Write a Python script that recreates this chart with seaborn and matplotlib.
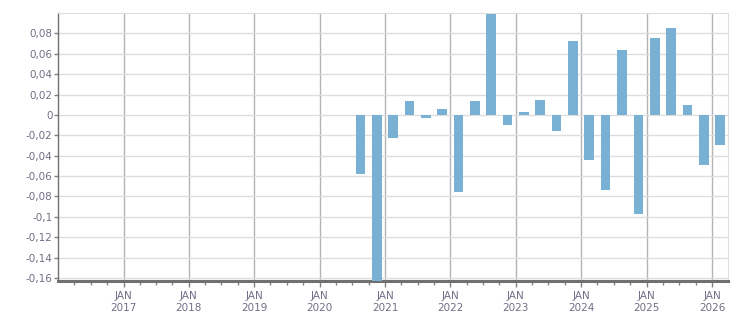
import pandas as pd
import numpy as np
import matplotlib
matplotlib.use("Agg")
import matplotlib.pyplot as plt
import matplotlib.dates as mdates
from matplotlib.ticker import FuncFormatter, FixedLocator
import seaborn as sns

# quarterly values
quarters = ["2020Q3", "2020Q4", "2021Q1", "2021Q2", "2021Q3", "2021Q4",
            "2022Q1", "2022Q2", "2022Q3", "2022Q4", "2023Q1", "2023Q2",
            "2023Q3", "2023Q4", "2024Q1", "2024Q2", "2024Q3", "2024Q4",
            "2025Q1", "2025Q2", "2025Q3", "2025Q4", "2026Q1"]
values = [-0.058, -0.17, -0.023, 0.014, -0.003, 0.006,
          -0.076, 0.014, 0.099, -0.010, 0.003, 0.015,
          -0.016, 0.073, -0.044, -0.074, 0.064, -0.097,
          0.075, 0.085, 0.010, -0.049, -0.030]
years = list(range(2017, 2027))
yticks = [-0.16, -0.14, -0.12, -0.1, -0.08, -0.06, -0.04, -0.02,
          0, 0.02, 0.04, 0.06, 0.08]

# bars sit in the middle of each quarter
per = pd.PeriodIndex(quarters, freq="Q")
mid = per.start_time + (per.end_time - per.start_time) / 2
df = pd.DataFrame({"x": mdates.date2num(mid.to_pydatetime()), "value": values})

fig = plt.figure(figsize=(7.51, 3.13), dpi=100)
ax = fig.add_axes([0.0772, 0.1022, 0.8922, 0.8563])

sns.barplot(data=df, x="x", y="value", native_scale=True, width=0.6,
            color="#78b1d3", saturation=1, ax=ax, zorder=3)

ax.set_xlim(mdates.date2num(pd.Timestamp("2016-01-01")),
            mdates.date2num(pd.Timestamp("2026-03-31")))
ax.set_ylim(-0.163, 0.1)

# x axis: years major, quarters minor
year_pos = [mdates.date2num(pd.Timestamp(f"{y}-01-01")) for y in years]
ax.xaxis.set_major_locator(FixedLocator(year_pos))
ax.set_xticklabels([f"JAN\n{y}" for y in years])
qpos = [mdates.date2num(d) for d in pd.date_range("2016-04-01", "2026-03-31", freq="QS")]
ax.xaxis.set_minor_locator(FixedLocator(qpos))

ax.yaxis.set_major_locator(FixedLocator(yticks))
ax.yaxis.set_major_formatter(FuncFormatter(
    lambda v, p: "0" if abs(v) < 1e-9 else f"{v:.2f}".rstrip("0").rstrip(".").replace(".", ",")))

lab = "#6f6f86"
ax.tick_params(axis="x", which="major", length=4, width=1, color="#808080",
               labelsize=7.5, labelcolor=lab, pad=3)
ax.tick_params(axis="x", which="minor", length=3, width=1, color="#808080")
ax.tick_params(axis="y", length=3, width=1, color="#808080",
               labelsize=7.5, labelcolor=lab, pad=1)
for t in ax.get_xticklabels():
    t.set_linespacing(1.25)

ax.grid(False)
ax.xaxis.grid(True, color="#b4b4b4", lw=1, zorder=1)
ax.yaxis.grid(True, color="#dedede", lw=1, zorder=1)
ax.set_axisbelow(True)

ax.spines["left"].set_color("#707070")
ax.spines["left"].set_linewidth(1)
ax.spines["bottom"].set_color("#707070")
ax.spines["bottom"].set_linewidth(2.2)
ax.spines["top"].set_color("#dedede")
ax.spines["right"].set_color("#dedede")
ax.set_xlabel("")
ax.set_ylabel("")

fig.savefig("out.png", dpi=100)
